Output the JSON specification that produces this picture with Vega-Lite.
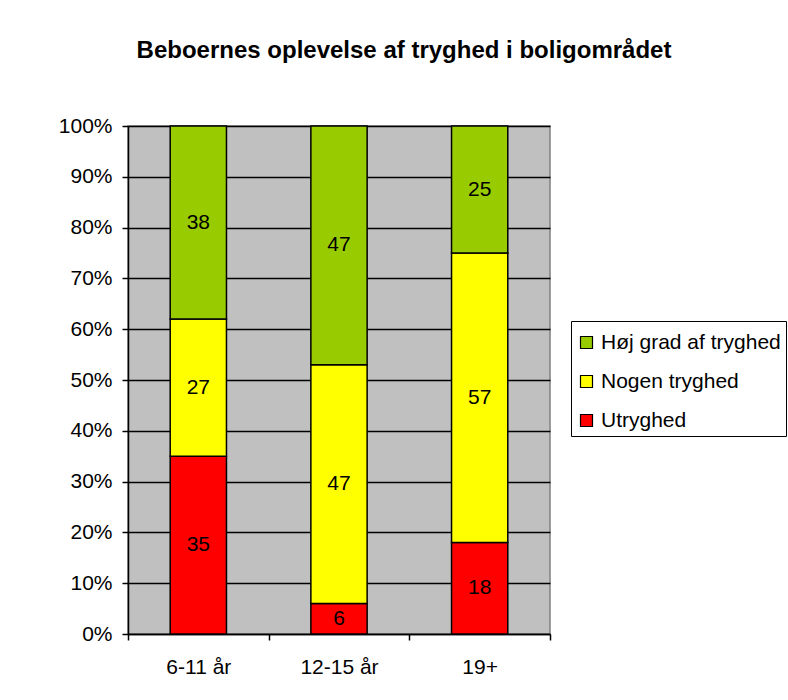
{
  "$schema": "https://vega.github.io/schema/vega-lite/v6.json",
  "width": 422,
  "height": 508,
  "autosize": {"type": "none"},
  "padding": {"left": 128, "top": 126, "right": 238, "bottom": 66},
  "background": "white",
  "title": {
    "text": "Beboernes oplevelse af tryghed i boligområdet",
    "font": "Liberation Sans",
    "fontSize": 24,
    "fontWeight": "bold",
    "color": "black",
    "anchor": "middle",
    "dx": 65,
    "offset": 52
  },
  "config": {
    "font": "Liberation Sans",
    "view": {"fill": "#C0C0C0", "stroke": "#808080", "strokeWidth": 1.5}
  },
  "data": {
    "values": [
      {"age": "6-11 år", "cat": "Utryghed", "value": 35},
      {"age": "6-11 år", "cat": "Nogen tryghed", "value": 27},
      {"age": "6-11 år", "cat": "Høj grad af tryghed", "value": 38},
      {"age": "12-15 år", "cat": "Utryghed", "value": 6},
      {"age": "12-15 år", "cat": "Nogen tryghed", "value": 47},
      {"age": "12-15 år", "cat": "Høj grad af tryghed", "value": 47},
      {"age": "19+", "cat": "Utryghed", "value": 18},
      {"age": "19+", "cat": "Nogen tryghed", "value": 57},
      {"age": "19+", "cat": "Høj grad af tryghed", "value": 25}
    ]
  },
  "transform": [
    {"stack": "value", "groupby": ["age"], "sort": [{"field": "cat", "order": "descending"}], "as": ["v0", "v1"]},
    {"calculate": "(datum.v0 + datum.v1) / 2", "as": "mid"}
  ],
  "encoding": {
    "x": {
      "field": "age",
      "type": "nominal",
      "sort": ["6-11 år", "12-15 år", "19+"],
      "scale": {"paddingInner": 0, "paddingOuter": 0},
      "axis": {
        "title": null,
        "labelAngle": 0,
        "labelFont": "Liberation Sans",
        "labelFontSize": 21,
        "labelColor": "black",
        "labelPadding": 16,
        "domainColor": "black",
        "domainWidth": 1.5,
        "tickColor": "black",
        "tickWidth": 1.5,
        "tickSize": 6,
        "tickBand": "extent"
      }
    }
  },
  "layer": [
    {
      "mark": {"type": "bar", "stroke": "black", "strokeWidth": 1.5, "opacity": 1, "width": {"band": 0.4}},
      "encoding": {
        "y": {
          "field": "v0",
          "type": "quantitative",
          "scale": {"domain": [0, 100]},
          "axis": {
            "title": null,
            "values": [0, 10, 20, 30, 40, 50, 60, 70, 80, 90, 100],
            "labelExpr": "datum.value + '%'",
            "labelFont": "Liberation Sans",
            "labelFontSize": 21,
            "labelColor": "black",
            "labelPadding": 10,
            "domainColor": "black",
            "domainWidth": 1.5,
            "tickColor": "black",
            "tickWidth": 1.5,
            "tickSize": 6,
            "grid": true,
            "gridColor": "black",
            "gridWidth": 1.5
          }
        },
        "y2": {"field": "v1"},
        "color": {
          "field": "cat",
          "type": "nominal",
          "scale": {
            "domain": ["Høj grad af tryghed", "Nogen tryghed", "Utryghed"],
            "range": ["#99CC00", "#FFFF00", "#FF0000"]
          },
          "legend": {
            "title": " ",
            "titleFontSize": 6,
            "titlePadding": 0,
            "orient": "none",
            "legendX": 443,
            "legendY": 195,
            "strokeColor": "black",
            "fillColor": "white",
            "padding": 5,
            "symbolType": "square",
            "symbolSize": 144,
            "symbolStrokeColor": "black",
            "symbolStrokeWidth": 1.2,
            "symbolOpacity": 1,
            "labelFont": "Liberation Sans",
            "labelFontSize": 21,
            "labelColor": "black",
            "labelLimit": 400,
            "labelOffset": 4,
            "rowPadding": 17
          }
        }
      }
    },
    {
      "mark": {"type": "text", "fontSize": 21, "font": "Liberation Sans", "color": "black"},
      "encoding": {
        "y": {"field": "mid", "type": "quantitative"},
        "text": {"field": "value", "type": "quantitative"}
      }
    }
  ]
}
